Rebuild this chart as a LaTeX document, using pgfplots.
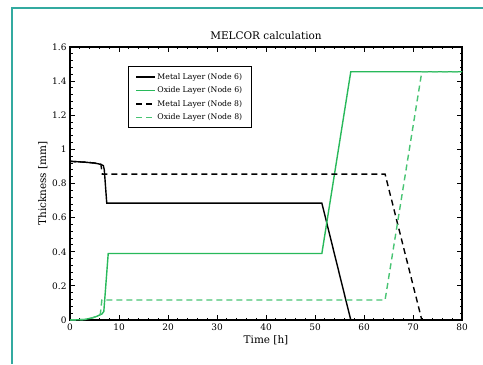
\documentclass[border=0pt]{standalone}
\usepackage{pgfplots}
\pgfplotsset{compat=1.18}
\usepackage{fontspec}
\setmainfont{DejaVu Serif}
\definecolor{frameteal}{RGB}{50,170,160}
\definecolor{lgreen}{RGB}{40,185,90}
\begin{document}
\begin{tikzpicture}[x=1bp,y=1bp]
\path[use as bounding box] (-70,-44) rectangle (413,320);
\draw[frameteal,line width=1.3bp] (-58,-44) -- (-58,312) -- (413,312);
\begin{axis}[
  at={(0,0)}, anchor=south west,
  scale only axis, width=392bp, height=273bp,
  xmin=0, xmax=80, ymin=0, ymax=1.6,
  xtick={0,10,...,80}, ytick={0,0.2,...,1.6},
  yticklabels={0,0.2,0.4,0.6,0.8,1,1.2,1.4,1.6},
  minor tick num=4,
  tick align=inside, ticks=both,
  major tick length=5bp, minor tick length=2.5bp,
  axis line style={line width=1.2bp},
  every tick/.style={black, line width=0.9bp},
  tick label style={font=\fontsize{9}{10}\selectfont},
  /pgf/number format/assume math mode=true,
  title={MELCOR calculation},
  title style={font=\fontsize{10.5}{12}\selectfont, yshift=-2bp},
  xlabel={Time [h]}, ylabel={Thickness [mm]},
  label style={font=\fontsize{10.5}{12}\selectfont},
  xlabel style={yshift=2bp},
  ylabel style={yshift=-2bp},
  legend style={at={(0.148,0.93)}, anchor=north west, draw=black, line width=1.1bp,
    font=\fontsize{7.8}{9}\selectfont, row sep=2.2pt, inner xsep=7pt, inner ysep=4.5pt},
  legend cell align=left,
  legend image code/.code={\draw[#1, line width=1.5bp] (0cm,0cm) -- (0.65cm,0cm);},
]
\addplot[black, line width=1.4bp] coordinates {
(0,0.93) (3,0.925) (5,0.92) (6.3,0.912) (6.8,0.905) (7.0,0.88) (7.5,0.685) (51.4,0.685) (57.3,0)};
\addlegendentry{Metal Layer (Node 6)}
\addplot[lgreen, line width=1.4bp] coordinates {
(0,0) (3,0.003) (4.5,0.012) (5.5,0.022) (6.5,0.035) (6.9,0.05) (7.3,0.2) (7.8,0.39) (51.4,0.39) (57.3,1.455) (80,1.455)};
\addlegendentry{Oxide Layer (Node 6)}
\addplot[black, line width=1.4bp, dash pattern=on 6bp off 4bp] coordinates {
(0,0.93) (3,0.925) (5,0.92) (6.3,0.912) (6.6,0.855) (64.3,0.855) (71.8,0)};
\addlegendentry{Metal Layer (Node 8)}
\addplot[lgreen!85!white, line width=1.4bp, dash pattern=on 6bp off 4bp] coordinates {
(0,0) (3,0.003) (4.5,0.012) (5.5,0.022) (6.2,0.035) (6.5,0.117) (64.3,0.117) (71.8,1.455) (80,1.455)};
\addlegendentry{Oxide Layer (Node 8)}
\end{axis}
\end{tikzpicture}
\end{document}
